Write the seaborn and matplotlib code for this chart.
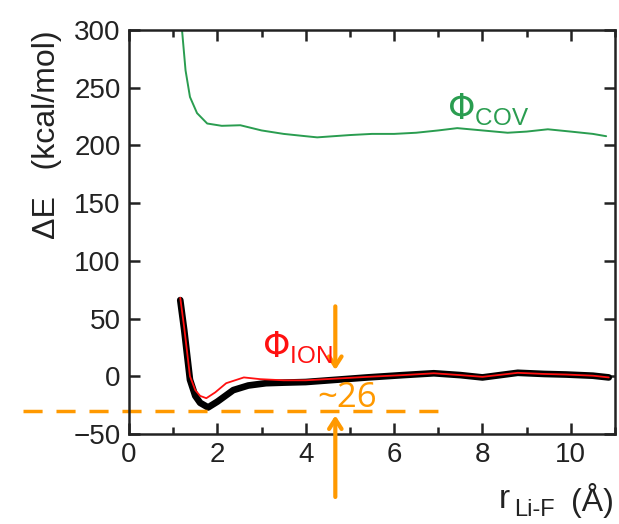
import pandas as pd
import numpy as np
import matplotlib
matplotlib.use('Agg')
import matplotlib.pyplot as plt
import seaborn as sns
from matplotlib.ticker import MultipleLocator

cov_r = [1.2, 1.28, 1.38, 1.54, 1.77, 2.1, 2.52, 3.0, 3.5, 4.0, 4.26, 5.0, 5.5, 6.0, 6.5,
         7.0, 7.43, 8.0, 8.57, 9.0, 9.48, 10.0, 10.5, 10.8]
cov_e = [300, 265, 242, 228, 219, 217, 217.5, 213, 210, 208, 207, 209, 210, 210, 211,
         213, 215, 213, 211, 212, 214, 212, 210, 208]

tot_r = [1.16, 1.25, 1.38, 1.5, 1.61, 1.79, 2.0, 2.36, 2.7, 3.1, 3.5, 4.0, 4.7, 5.4,
         6.2, 6.9, 7.5, 8.0, 8.8, 9.4, 9.9, 10.5, 10.86]
tot_e = [66, 40, -3, -17, -23, -27, -22, -12, -8, -6, -5.5, -5, -3, -1,
         1, 2.6, 1, -1, 3, 2, 1.5, 0.5, -1]

ion_r = [1.16, 1.25, 1.38, 1.5, 1.61, 1.75, 1.95, 2.2, 2.6, 2.97, 3.5, 4.0, 4.7, 5.4,
         6.2, 6.9, 7.5, 8.0, 8.8, 9.4, 9.9, 10.5, 10.86]
ion_e = [68, 42, 0, -12, -17, -19, -14, -6, -1, -2.5, -3.5, -3.5, -2, -0.5,
         1, 2.6, 1, -0.5, 3, 2, 1.5, 0.5, -1]

gap_e = -30.5
arrow_r = 4.67

sns.set_style('ticks')
plt.rcParams['font.family'] = ['Liberation Sans', 'DejaVu Sans']
plt.rcParams['mathtext.fontset'] = 'dejavusans'

fig = plt.figure(figsize=(6.19, 5.24), dpi=100)
ax = fig.add_axes([0.2084, 0.1718, 0.9935 - 0.2084, 0.9427 - 0.1718])

sns.lineplot(x=cov_r, y=cov_e, ax=ax, color='#2a9d50', lw=1.4, estimator=None, sort=False)
sns.lineplot(x=tot_r, y=tot_e, ax=ax, color='black', lw=4.8, estimator=None, sort=False)
sns.lineplot(x=ion_r, y=ion_e, ax=ax, color='#ff1010', lw=1.3, estimator=None, sort=False)

ax.set_xlim(0, 11)
ax.set_ylim(-50, 300)
ax.xaxis.set_major_locator(MultipleLocator(2))
ax.xaxis.set_minor_locator(MultipleLocator(1))
ax.yaxis.set_major_locator(MultipleLocator(50))
ax.tick_params(which='both', direction='in', top=True, right=True, width=1.8,
               labelsize=20, pad=6, color='#222222', labelcolor='#222222')
ax.tick_params(which='major', length=8)
ax.tick_params(which='minor', length=5)
for s in ax.spines.values():
    s.set_linewidth(1.8)
    s.set_color('#222222')

orange = '#ff9900'
ax.plot([-2.4, 7.23], [gap_e, gap_e], color=orange, lw=2.5, dashes=(5.5, 4), clip_on=False)
ax.annotate('', xy=(arrow_r, 3), xytext=(arrow_r, 63),
            arrowprops=dict(arrowstyle='->,head_length=0.7,head_width=0.45', color=orange, lw=3))
ax.annotate('', xy=(arrow_r, gap_e - 1), xytext=(arrow_r, -107), annotation_clip=False,
            arrowprops=dict(arrowstyle='->,head_length=0.7,head_width=0.45', color=orange, lw=3))
ax.text(4.25, -19, '~26', color=orange, fontsize=25, family='Open Sans', va='center', ha='left')

ax.text(3.0, 25, r'$\Phi_{\mathregular{ION}}$', color='#ff1010', fontsize=25, va='center')
ax.text(7.2, 232, r'$\Phi_{\mathregular{COV}}$', color='#2a9d50', fontsize=25, va='center')

ax.set_xlabel('')
ax.set_ylabel('')
fig.text(47 / 619, 1 - 135 / 524, u'\u0394E   (kcal/mol)', rotation=90, ha='center', va='center',
         fontsize=23, color='#222222')
fig.text(499 / 619, 1 - 500 / 524, 'r', ha='left', va='center', fontsize=24, color='#222222')
fig.text(514 / 619, 1 - 510 / 524, 'Li-F', ha='left', va='center', fontsize=17, color='#222222')
fig.text(614 / 619, 1 - 500 / 524, '(Å)', ha='right', va='center', fontsize=23, color='#222222')

fig.savefig('out.png', dpi=100)
